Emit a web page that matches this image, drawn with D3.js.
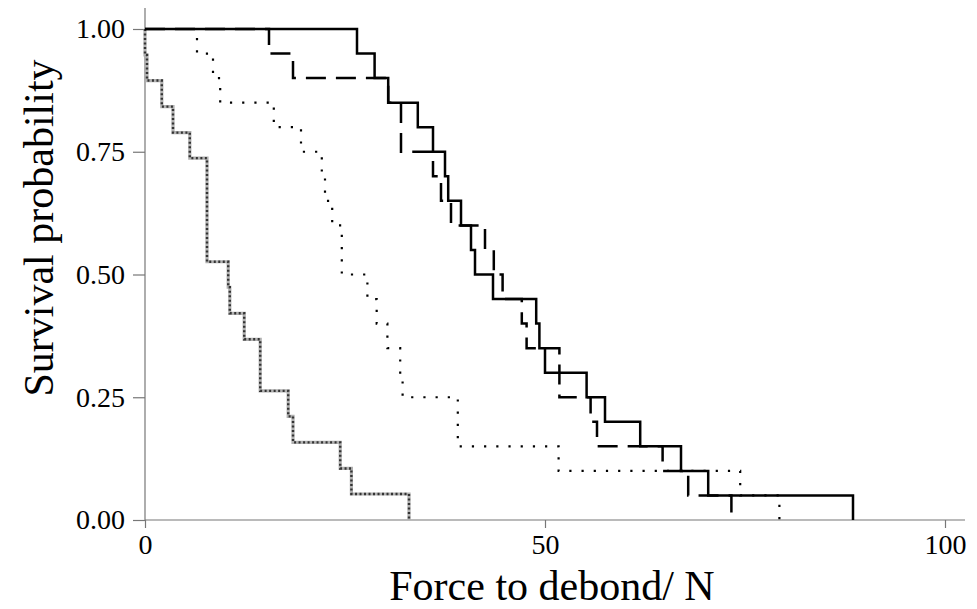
<!DOCTYPE html>
<html>
<head>
<meta charset="utf-8">
<script src="https://cdn.jsdelivr.net/npm/d3@7"></script>
<style>
  html, body { margin: 0; padding: 0; background: #fff; }
  svg { display: block; }
  text { font-family: "Liberation Serif", "Times New Roman", serif; fill: #000; }
</style>
</head>
<body>
<svg id="chart" width="977" height="609"></svg>
<script>
// ---- data (event forces in N and survival probability after each event) ----
const grayTimes   = [0, 0.25, 2.1, 3.5, 5.6, 7.75, 10.4, 10.6, 12.4, 14.4, 17.9, 18.5, 24.4, 25.8, 33.0];
const graySurv    = [0.947, 0.895, 0.842, 0.789, 0.737, 0.526, 0.474, 0.421, 0.368, 0.263, 0.211, 0.158, 0.105, 0.053, 0];

const dottedTimes = [6.5, 8.5, 9.4, 16.1, 19.5, 22.1, 22.5, 23.4, 24.6, 27.8, 28.96, 30.3, 31.9, 32.2, 39.1, 51.7, 74.4, 79.3];
const dottedSurv  = [0.95, 0.90, 0.85, 0.80, 0.75, 0.70, 0.65, 0.60, 0.50, 0.45, 0.40, 0.35, 0.30, 0.25, 0.15, 0.10, 0.05, 0];

const solidTimes  = [26.5, 28.7, 30.4, 34.1, 36.0, 37.5, 37.9, 39.5, 40.75, 41.25, 43.5, 48.9, 49.3, 50.0, 55.2, 57.5, 61.9, 67.0, 70.4, 88.5];
const solidSurv   = [0.95, 0.90, 0.85, 0.80, 0.75, 0.70, 0.65, 0.60, 0.55, 0.50, 0.45, 0.40, 0.35, 0.30, 0.25, 0.20, 0.15, 0.10, 0.05, 0];

const dashedTimes = [15.5, 18.5, 30.4, 32.0, 36.0, 37.0, 38.25, 42.5, 43.6, 44.7, 47.1, 47.7, 51.8, 55.7, 56.5, 64.7, 67.9, 73.3];
const dashedSurv  = [0.95, 0.90, 0.85, 0.75, 0.70, 0.65, 0.60, 0.55, 0.50, 0.45, 0.40, 0.35, 0.25, 0.20, 0.15, 0.10, 0.05, 0];

const xTicks = [0, 50, 100];
const yTicks = [0, 0.25, 0.5, 0.75, 1.0];
const xTitle = "Force to debond/ N";
const yTitle = "Survival probability";

// ---- layout ----
const svg = d3.select("#chart");
const x = d3.scaleLinear().domain([0, 100]).range([145, 945]);
const y = d3.scaleLinear().domain([0, 1]).range([520, 29]);
const axisColor = "#777";

// axes lines
svg.append("line").attr("x1", x(0)).attr("x2", 965).attr("y1", y(0)).attr("y2", y(0))
  .attr("stroke", axisColor).attr("stroke-width", 1.2);
svg.append("line").attr("x1", x(0)).attr("x2", x(0)).attr("y1", 8).attr("y2", y(0))
  .attr("stroke", axisColor).attr("stroke-width", 1.2);

// x axis ticks & labels
const xAxis = d3.axisBottom(x).tickValues(xTicks).tickSize(8).tickPadding(6).tickFormat(d3.format("d"));
const gx = svg.append("g").attr("transform", `translate(0,${y(0)})`).call(xAxis);
gx.select(".domain").remove();
gx.selectAll(".tick line").attr("stroke", axisColor).attr("stroke-width", 1.2);
gx.selectAll(".tick text").attr("font-size", 28).attr("font-family", "Liberation Serif").attr("fill", "#000");

// y axis ticks & labels
const yAxis = d3.axisLeft(y).tickValues(yTicks).tickSize(12).tickPadding(8).tickFormat(d3.format(".2f"));
const gy = svg.append("g").attr("transform", `translate(${x(0)},0)`).call(yAxis);
gy.select(".domain").remove();
gy.selectAll(".tick line").attr("stroke", axisColor).attr("stroke-width", 1.2);
gy.selectAll(".tick text").attr("font-size", 28).attr("font-family", "Liberation Serif").attr("fill", "#000");

// titles
svg.append("text").attr("x", 552).attr("y", 600).attr("text-anchor", "middle")
  .attr("font-size", 42).text(xTitle);
svg.append("text").attr("transform", "translate(53,228) rotate(-90)").attr("text-anchor", "middle")
  .attr("font-size", 42).text(yTitle);

// ---- step curves ----
function stepPoints(times, surv) {
  const pts = [[0, 1]];
  times.forEach((t, i) => pts.push([t, surv[i]]));
  return pts;
}
const line = d3.line().x(d => x(d[0])).y(d => y(d[1])).curve(d3.curveStepAfter);

const g = svg.append("g").attr("fill", "none");

// gray hatched curve
g.append("path").attr("d", line(stepPoints(grayTimes, graySurv)))
  .attr("stroke", "#b0b0b0").attr("stroke-width", 3.2);
g.append("path").attr("d", line(stepPoints(grayTimes, graySurv)))
  .attr("stroke", "#333").attr("stroke-width", 2.4).attr("stroke-dasharray", "2,2.5");

// dotted curve
g.append("path").attr("d", line(stepPoints(dottedTimes, dottedSurv)))
  .attr("stroke", "#000").attr("stroke-width", 2.2).attr("stroke-dasharray", "2.2,10");

// long dashed curve
g.append("path").attr("d", line(stepPoints(dashedTimes, dashedSurv)))
  .attr("stroke", "#000").attr("stroke-width", 2.5).attr("stroke-dasharray", "20,10");

// solid curve
g.append("path").attr("d", line(stepPoints(solidTimes, solidSurv)))
  .attr("stroke", "#000").attr("stroke-width", 2.5);
</script>
</body>
</html>
